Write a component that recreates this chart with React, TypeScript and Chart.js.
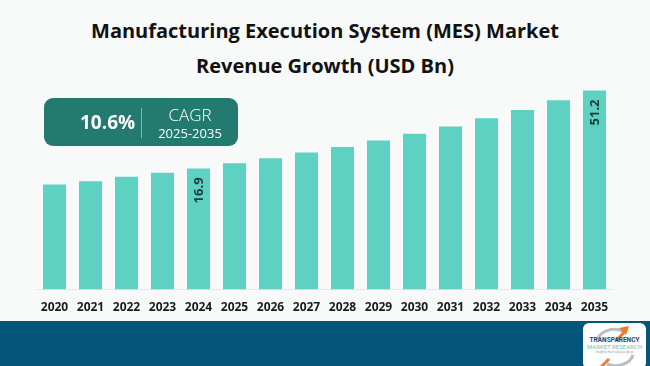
import React, { useEffect, useRef } from "react";
import { Chart, registerables } from "chart.js";

Chart.register(...registerables);

const years = ["2020", "2021", "2022", "2023", "2024", "2025", "2026", "2027", "2028", "2029", "2030", "2031", "2032", "2033", "2034", "2035"];
const revenue = [9.8, 11.3, 13.2, 15.0, 16.9, 19.2, 21.4, 23.9, 26.3, 29.2, 32.2, 35.3, 39.0, 42.6, 46.9, 51.2];
const labelledYears = ["2024", "2035"];
const titleLines = ["Manufacturing Execution System (MES) Market", "Revenue Growth (USD Bn)"];
const cagrValue = "10.6%";
const cagrLabel = "CAGR";
const cagrPeriod = "2025-2035";
const axisMin = -36.4;
const axisMax = 55.8;

const BAR = "#5DD2C3";
const FONT = "'Open Sans', 'DejaVu Sans', sans-serif";

const valueLabelPlugin = {
  id: "valueLabels",
  afterDatasetsDraw(chart: any) {
    const meta = chart.getDatasetMeta(0);
    const ctx = chart.ctx;
    ctx.save();
    ctx.font = `bold 13px ${FONT}`;
    ctx.fillStyle = "#1E3A3C";
    ctx.textAlign = "right";
    ctx.textBaseline = "middle";
    meta.data.forEach((bar: any, i: number) => {
      if (!labelledYears.includes(years[i])) return;
      ctx.save();
      ctx.translate(bar.x + 1, bar.y + 9);
      ctx.rotate(-Math.PI / 2);
      ctx.fillText(revenue[i].toFixed(1), 0, 0);
      ctx.restore();
    });
    ctx.restore();
  },
};

export default function App() {
  const ref = useRef<HTMLCanvasElement | null>(null);
  useEffect(() => {
    let chart: Chart | null = null;
    let cancelled = false;
    const make = () => {
      if (cancelled || !ref.current) return;
      chart = new Chart(ref.current, {
        type: "bar",
        data: {
          labels: years,
          datasets: [
            {
              data: revenue,
              backgroundColor: BAR,
              borderWidth: 0,
              base: axisMin,
              categoryPercentage: 1,
              barPercentage: 0.64,
            } as any,
          ],
        },
        options: {
          responsive: false,
          animation: false,
          layout: { padding: { top: 80, left: 36.5, right: 37.5, bottom: 7 } },
          plugins: { legend: { display: false }, title: { display: false }, tooltip: { enabled: false } },
          scales: {
            x: {
              grid: { display: false, drawTicks: false },
              border: { display: true, color: "#E6E8E8", width: 1 },
              ticks: { color: "#1A1A1A", font: { family: FONT, size: 12, weight: "bold" }, padding: 11, maxRotation: 0, autoSkip: false },
            },
            y: { display: false, min: axisMin, max: axisMax },
          },
        },
        plugins: [valueLabelPlugin],
      });
    };
    const fonts = (document as any).fonts;
    if (fonts && fonts.load) {
      Promise.all([fonts.load(`bold 12px 'Open Sans'`), fonts.load(`12px 'Open Sans'`)]).then(make, make);
    } else make();
    return () => {
      cancelled = true;
      if (chart) chart.destroy();
    };
  }, []);

  return (
    <div style={{ position: "fixed", left: 0, top: 0, width: 650, height: 366, background: "#F8F9F9", overflow: "hidden", fontFamily: FONT }}>
      <div style={{ position: "absolute", left: 0, top: 13, width: 650, textAlign: "center", fontWeight: 700, fontSize: 20, lineHeight: "35px", color: "#111" }}>
        {titleLines.map((t) => (
          <div key={t}>{t}</div>
        ))}
      </div>
      <canvas ref={ref} width={650} height={333} style={{ position: "absolute", left: 0, top: 0 }} />
      <div style={{ position: "absolute", left: 44, top: 98, width: 194, height: 48, borderRadius: 9, background: "#237B6F", color: "#fff" }}>
        <div style={{ position: "absolute", left: 36, top: 0, height: 48, lineHeight: "48px", fontWeight: 700, fontSize: 19 }}>{cagrValue}</div>
        <div style={{ position: "absolute", left: 97, top: 10, width: 1, height: 30, background: "rgba(255,255,255,0.45)" }} />
        <div style={{ position: "absolute", left: 98, top: 6, width: 96, textAlign: "center", fontSize: 17, lineHeight: "22px", fontWeight: 300 }}>{cagrLabel}</div>
        <div style={{ position: "absolute", left: 98, top: 26, width: 96, textAlign: "center", fontSize: 13, lineHeight: "18px" }}>{cagrPeriod}</div>
      </div>
      <div style={{ position: "absolute", left: 0, top: 321, width: 650, height: 45, background: "#04557A" }} />
      <div style={{ position: "absolute", left: 583, top: 323, width: 63, height: 46, borderRadius: 6, background: "#fff", overflow: "hidden" }}>
        <svg width={63} height={46} style={{ position: "absolute", left: 0, top: 0 }}>
          <path d="M 14 17 A 18 14 0 0 1 40 8" stroke="#B8BEC4" strokeWidth={3} fill="none" />
          <path d="M 36 5 L 46 3 L 43 12 Z" fill="#F07A2C" />
          <path d="M 33 18 L 44 6" stroke="#F07A2C" strokeWidth={3} />
          <path d="M 50 32 A 18 14 0 0 1 24 41" stroke="#B8BEC4" strokeWidth={3} fill="none" />
          <path d="M 26 36 L 18 44" stroke="#F07A2C" strokeWidth={3} />
        </svg>
        <div style={{ position: "absolute", left: 0, top: 13, width: 63, textAlign: "center", fontSize: 6.5, fontWeight: 700, color: "#1C4A6E", fontFamily: "'Liberation Sans Narrow', 'Roboto', sans-serif", lineHeight: "8px" }}>TRANSPARENCY</div>
        <div style={{ position: "absolute", left: 0, top: 20, width: 63, textAlign: "center", fontSize: 6, color: "#6CC4BA", fontFamily: "'Liberation Sans Narrow', 'Roboto', sans-serif", lineHeight: "8px" }}>MARKET RESEARCH</div>
        <div style={{ position: "absolute", left: 0, top: 27, width: 63, textAlign: "center", fontSize: 3, color: "#888", lineHeight: "4px" }}>Insights that help you grow</div>
      </div>
    </div>
  );
}
